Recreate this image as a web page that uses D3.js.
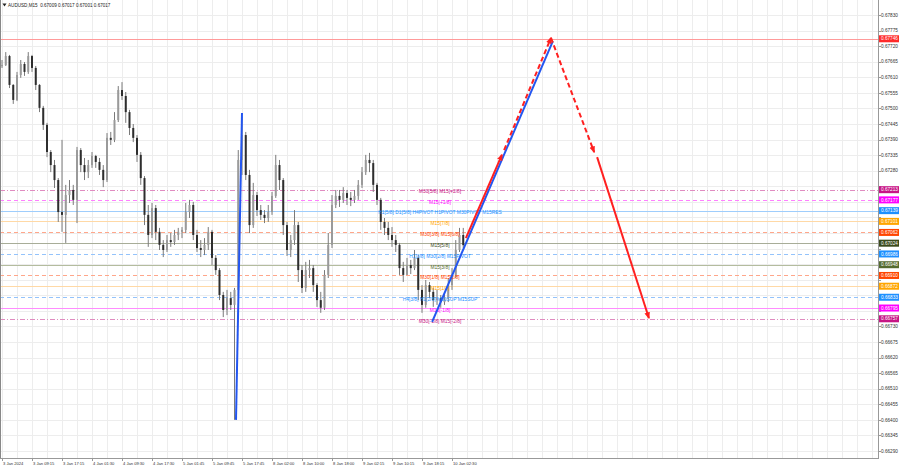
<!DOCTYPE html>
<html><head><meta charset="utf-8">
<script src="https://cdn.jsdelivr.net/npm/d3@7/dist/d3.min.js"></script>
<style>body{margin:0;background:#fff}svg{display:block;font-family:"Liberation Sans",Arial,sans-serif}</style>
</head><body><svg id="c" width="900" height="468"></svg>
<script>
// ---- DATA (H1 candles) ----
const barOpen=[0.67650,0.67653,0.67685,0.67583,0.67530,0.67618,0.67657,0.67629,0.67685,0.67643,
0.67583,0.67502,0.67442,0.67346,0.67300,0.67247,0.67134,0.67124,0.67194,0.67212,
0.67177,0.67353,0.67300,0.67275,0.67300,0.67332,0.67311,0.67283,0.67247,0.67396,
0.67389,0.67459,0.67565,0.67544,0.67487,0.67431,0.67396,0.67336,0.67254,0.67124,
0.67053,0.67148,0.67064,0.67018,0.67000,0.67035,0.67028,0.67053,0.67064,0.67071,
0.67134,0.67159,0.67053,0.67007,0.67000,0.67018,0.67064,0.66972,0.66929,0.66841,
0.66788,0.66830,0.66806,0.66859,0.67318,0.67406,0.67265,0.67088,0.67194,0.67141,
0.67124,0.67113,0.67134,0.67191,0.67300,0.67247,0.67088,0.67000,0.67035,0.67088,
0.66929,0.66866,0.66929,0.66936,0.66876,0.66823,0.66796,0.66912,0.67018,0.67159,
0.67191,0.67177,0.67201,0.67184,0.67177,0.67191,0.67230,0.67275,0.67318,0.67307,
0.67230,0.67177,0.67099,0.67078,0.67053,0.67035,0.67018,0.66936,0.66912,0.66947,
0.66936,0.66972,0.66859,0.66806,0.66876,0.66852,0.66823,0.66830,0.66816,0.66830,
0.66876,0.66912,0.67000,0.67053];
const barHigh=[0.67671,0.67699,0.67689,0.67586,0.67629,0.67671,0.67664,0.67699,0.67689,0.67650,
0.67586,0.67509,0.67449,0.67353,0.67318,0.67254,0.67389,0.67230,0.67247,0.67230,
0.67364,0.67360,0.67325,0.67318,0.67346,0.67336,0.67325,0.67300,0.67413,0.67417,
0.67487,0.67579,0.67593,0.67558,0.67495,0.67445,0.67406,0.67346,0.67261,0.67159,
0.67166,0.67159,0.67078,0.67035,0.67053,0.67060,0.67071,0.67078,0.67081,0.67166,
0.67177,0.67170,0.67071,0.67035,0.67042,0.67081,0.67071,0.66982,0.66936,0.66852,
0.66859,0.66852,0.66866,0.67353,0.67470,0.67417,0.67283,0.67237,0.67205,0.67159,
0.67141,0.67159,0.67205,0.67336,0.67318,0.67254,0.67099,0.67053,0.67141,0.67099,
0.66947,0.66958,0.66965,0.66947,0.66883,0.66852,0.66929,0.67060,0.67194,0.67212,
0.67212,0.67222,0.67212,0.67205,0.67212,0.67247,0.67293,0.67336,0.67343,0.67318,
0.67237,0.67184,0.67113,0.67099,0.67081,0.67053,0.67025,0.66958,0.66972,0.66965,
0.67000,0.66982,0.66876,0.66894,0.66887,0.66866,0.66859,0.66841,0.66852,0.66901,
0.66936,0.67035,0.67078,0.67078];
const barLow=[0.67643,0.67650,0.67572,0.67516,0.67526,0.67608,0.67615,0.67622,0.67629,0.67565,
0.67487,0.67424,0.67328,0.67275,0.67219,0.67099,0.67064,0.67025,0.67166,0.67159,
0.67095,0.67275,0.67247,0.67254,0.67290,0.67290,0.67265,0.67222,0.67240,0.67371,
0.67381,0.67452,0.67530,0.67449,0.67406,0.67381,0.67311,0.67230,0.67088,0.67011,
0.67042,0.67035,0.67000,0.66975,0.66993,0.67011,0.67018,0.67035,0.67042,0.67060,
0.67113,0.67035,0.66993,0.66975,0.66982,0.67000,0.66947,0.66912,0.66823,0.66763,
0.66770,0.66788,0.66400,0.66841,0.67265,0.67247,0.67060,0.67078,0.67120,0.67106,
0.67095,0.67099,0.67124,0.67184,0.67212,0.67053,0.66979,0.66975,0.67018,0.66887,
0.66848,0.66852,0.66901,0.66852,0.66799,0.66778,0.66788,0.66901,0.67007,0.67148,
0.67152,0.67166,0.67159,0.67155,0.67166,0.67177,0.67219,0.67265,0.67275,0.67205,
0.67159,0.67071,0.67053,0.67035,0.67011,0.66993,0.66912,0.66887,0.66912,0.66915,
0.66929,0.66823,0.66778,0.66796,0.66830,0.66799,0.66806,0.66796,0.66806,0.66816,
0.66859,0.66901,0.66993,0.67007];
const barClose=[0.67653,0.67685,0.67583,0.67530,0.67618,0.67657,0.67629,0.67685,0.67643,0.67583,
0.67502,0.67442,0.67346,0.67300,0.67247,0.67134,0.67124,0.67194,0.67212,0.67177,
0.67353,0.67300,0.67275,0.67300,0.67332,0.67311,0.67283,0.67247,0.67396,0.67389,
0.67459,0.67565,0.67544,0.67487,0.67431,0.67396,0.67336,0.67254,0.67124,0.67053,
0.67148,0.67064,0.67018,0.67000,0.67035,0.67028,0.67053,0.67064,0.67071,0.67134,
0.67159,0.67053,0.67007,0.67000,0.67018,0.67064,0.66972,0.66929,0.66841,0.66788,
0.66830,0.66806,0.66859,0.67318,0.67406,0.67265,0.67088,0.67194,0.67141,0.67124,
0.67113,0.67134,0.67191,0.67300,0.67247,0.67088,0.67000,0.67035,0.67088,0.66929,
0.66866,0.66929,0.66936,0.66876,0.66823,0.66796,0.66912,0.67018,0.67159,0.67191,
0.67177,0.67201,0.67184,0.67177,0.67191,0.67230,0.67275,0.67318,0.67307,0.67230,
0.67177,0.67099,0.67078,0.67053,0.67035,0.67018,0.66936,0.66912,0.66947,0.66936,
0.66972,0.66859,0.66806,0.66876,0.66852,0.66823,0.66830,0.66816,0.66830,0.66876,
0.66912,0.67000,0.67053,0.67017];

const priceTicks=[0.67830,0.67775,0.67720,0.67665,0.67610,0.67555,0.67500,0.67445,0.67390,0.67335,
0.67280,0.67225,0.67170,0.67115,0.67060,0.67005,0.66950,0.66895,0.66840,0.66785,0.66730,
0.66675,0.66620,0.66565,0.66510,0.66455,0.66400,0.66345,0.66290];
const timeLabels=["3 Jan 2024","3 Jan 09:15","3 Jan 17:15","4 Jan 01:30","4 Jan 09:30","4 Jan 17:30",
"5 Jan 01:45","5 Jan 09:45","5 Jan 17:45","8 Jan 02:00","8 Jan 10:00","8 Jan 18:00",
"9 Jan 02:15","9 Jan 10:15","9 Jan 18:15","10 Jan 02:30"];
const timeLabelBars=[0,8,16,24,32,40,48,56,64,72,80,88,96,104,112,120];

const levelPrices=[0.67746,0.67213,0.67177,0.67139,0.67101,0.67062,0.67024,0.66986,0.66948,0.66910,0.66872,0.66833,0.66795,0.66757];
const levelNames=["","M30[5/8] M15[+2/8]","M15[+1/8]","H1[5/8] D1[5/8] H4PIVOT H1PIVOT M30PIVOT M15RES","M15[7/8]",
"M30[3/8] M15[6/8]","M15[5/8]","H1[3/8] M30[2/8] M15PIVOT","M15[3/8]","M30[1/8] M15[2/8]","M15[1/8]",
"H4[3/8] H1[2/8] M30SUP M15SUP","M15[-1/8]","M30[-1/8] M15[-2/8]"];

// arrow legs: [bar, price]
const blueLegFrom=[[62.4,0.66400],[114.7,0.66746]];
const blueLegTo=[[64.0,0.67484],[146.9,0.67738]];
const redLegFrom=[[123.7,0.67042],[133.9,0.67353],[146.4,0.67749],[158.7,0.67328]];
const redLegTo=[[133.3,0.67336],[146.4,0.67749],[157.9,0.67346],[172.5,0.66760]];

const titleText="AUDUSD,M15  0.67009 0.67017 0.67001 0.67017";

// ---- STYLES ----
const levelColor=["#ff2a2a","#c71585","#ff00ff","#1e90ff","#ffa500","#ff4500","#3b4a1c","#1e90ff","#556b2f","#ff4500","#ffa500","#1e90ff","#ff00ff","#c71585"];
const lineColor=["#ff9a9a","#e08cc0","#ff80ff","#9fcdfc","#ffd9a6","#ffa68a","#a8ad98","#94c3fb","#b4bc9e","#ffa68a","#ffd9a6","#94c3fb","#ff8cff","#e08cc0"];
const levelDash=[null,"5,2,1,2","4,3",null,null,"4,3",null,"4,3",null,"4,3",null,"4,3",null,"5,2,1,2"];
const redDashed=[false,true,true,false];

const W=878,H=458;
const svg=d3.select("#c");
const x=d3.scaleLinear().domain([0,232]).range([2,872]);
const y=d3.scaleLinear().domain([0.66290,0.67830]).range([451,15]);

const defs=svg.append("defs");
defs.append("marker").attr("id","ar").attr("viewBox","0 0 10 10").attr("refX",8).attr("refY",5)
   .attr("markerWidth",7).attr("markerHeight",7).attr("markerUnits","userSpaceOnUse").attr("orient","auto")
   .append("path").attr("d","M0,1 L10,5 L0,9 z").attr("fill","#ff2020");
defs.append("clipPath").attr("id","plot").append("rect").attr("x",0).attr("y",0).attr("width",W).attr("height",H);

// grid
const grid=svg.append("g").attr("stroke","#ededed").attr("stroke-width",1);
grid.selectAll("line.h").data(priceTicks).join("line")
  .attr("x1",0).attr("x2",W).attr("y1",d=>Math.round(y(d))+0.5).attr("y2",d=>Math.round(y(d))+0.5);
grid.selectAll("line.v").data(d3.range(0,233,4)).join("line")
  .attr("y1",0).attr("y2",H).attr("x1",d=>Math.round(x(d))+0.5).attr("x2",d=>Math.round(x(d))+0.5);

const plot=svg.append("g").attr("clip-path","url(#plot)");

// level lines
plot.append("g").selectAll("line").data(levelPrices).join("line")
  .attr("x1",0).attr("x2",W).attr("y1",d=>Math.round(y(d))+0.5).attr("y2",d=>Math.round(y(d))+0.5)
  .attr("stroke",(d,i)=>lineColor[i])
  .attr("stroke-dasharray",(d,i)=>levelDash[i]).attr("stroke-width",1);

// candles
const bars=d3.range(barOpen.length);
const cg=plot.append("g");
cg.selectAll("line").data(bars).join("line")
  .attr("x1",i=>x(i)).attr("x2",i=>x(i)).attr("y1",i=>y(barHigh[i])).attr("y2",i=>y(barLow[i]))
  .attr("stroke","#7a7a7a").attr("stroke-width",1);
cg.selectAll("rect").data(bars).join("rect")
  .attr("x",i=>x(i)-1).attr("width",2)
  .attr("y",i=>y(Math.max(barOpen[i],barClose[i])))
  .attr("height",i=>Math.max(1,Math.abs(y(barOpen[i])-y(barClose[i]))))
  .attr("fill",i=>barClose[i]>=barOpen[i]?"#9a9a9a":"#2e2e2e");

// level text
plot.append("g").selectAll("text").data(levelPrices).join("text")
  .attr("x",x(116.8)).attr("y",d=>y(d)+3.8).attr("text-anchor","middle")
  .attr("font-size",4.9).attr("fill",(d,i)=>levelColor[i]).text((d,i)=>levelNames[i]);

// blue legs
plot.append("g").selectAll("line").data(blueLegFrom).join("line")
  .attr("x1",d=>x(d[0])).attr("y1",d=>y(d[1]))
  .attr("x2",(d,i)=>x(blueLegTo[i][0])).attr("y2",(d,i)=>y(blueLegTo[i][1]))
  .attr("stroke","#2356f0").attr("stroke-width",2);

// red legs
plot.append("g").selectAll("line").data(redLegFrom).join("line")
  .attr("x1",d=>x(d[0])).attr("y1",d=>y(d[1]))
  .attr("x2",(d,i)=>x(redLegTo[i][0])).attr("y2",(d,i)=>y(redLegTo[i][1]))
  .attr("stroke","#ff2020").attr("stroke-width",2)
  .attr("stroke-dasharray",(d,i)=>redDashed[i]?"5,3":null)
  .attr("marker-end","url(#ar)");

// frame
svg.append("line").attr("x1",W+0.5).attr("x2",W+0.5).attr("y1",0).attr("y2",H+1).attr("stroke","#999");
svg.append("line").attr("x1",0).attr("x2",W+1).attr("y1",H+0.5).attr("y2",H+0.5).attr("stroke","#999");
svg.append("line").attr("x1",0.5).attr("x2",0.5).attr("y1",0).attr("y2",H).attr("stroke","#888");

// price axis (tick labels hidden where a level label box covers them)
const visibleTicks=priceTicks.filter(p=>levelPrices.every(l=>Math.abs(y(p)-y(l))>=6));
const pa=svg.append("g");
pa.selectAll("line").data(priceTicks).join("line")
  .attr("x1",W).attr("x2",W+3).attr("y1",d=>Math.round(y(d))+0.5).attr("y2",d=>Math.round(y(d))+0.5).attr("stroke","#999");
pa.selectAll("text").data(visibleTicks).join("text")
  .attr("x",W+3).attr("y",d=>y(d)+1.7).attr("font-size",4.7).attr("fill","#333").text(d=>d.toFixed(5));

// level price labels
const lb=svg.append("g");
lb.selectAll("rect").data(levelPrices).join("rect")
  .attr("x",W+1).attr("width",20).attr("y",d=>y(d)-3.5).attr("height",7).attr("fill",(d,i)=>levelColor[i]);
lb.selectAll("text").data(levelPrices).join("text")
  .attr("x",W+3).attr("y",d=>y(d)+1.7).attr("font-size",4.7).attr("fill","#fff").text(d=>d.toFixed(5));

// time axis
const ta=svg.append("g");
ta.selectAll("line").data(timeLabelBars).join("line")
  .attr("x1",d=>Math.round(x(d))+0.5).attr("x2",d=>Math.round(x(d))+0.5).attr("y1",H).attr("y2",H+3).attr("stroke","#999");
ta.selectAll("text").data(timeLabels).join("text")
  .attr("x",(d,i)=>x(timeLabelBars[i])+1).attr("y",465).attr("font-size",4.1).attr("fill","#333").text(d=>d);

// title
svg.append("path").attr("d","M2.5,3.5 L6.5,3.5 L4.5,6.5 Z").attr("fill","#222");
svg.append("text").attr("x",8).attr("y",7).attr("font-size",4.6).attr("fill","#222").attr("xml:space","preserve").text(titleText);
</script></body></html>
